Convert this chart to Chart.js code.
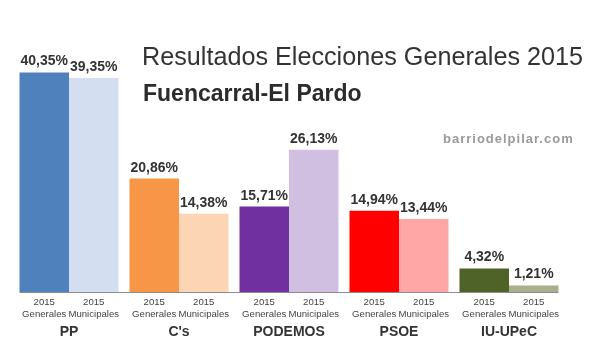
<!DOCTYPE html>
<html>
<head>
<meta charset="utf-8">
<script src="https://cdn.jsdelivr.net/npm/chart.js@4"></script>
<style>
  html, body { margin: 0; padding: 0; background: #fff; }
  #wrap { position: relative; width: 597px; height: 351px; overflow: hidden; }
  canvas { position: absolute; left: 0; top: 0; }
  .t { position: absolute; white-space: nowrap; font-family: "Liberation Sans", Arial, sans-serif; }
  #t1 { left: 142px; top: 44px; font-size: 25.2px; line-height: 25px; color: #333; }
  #t2 { left: 143px; top: 82px; font-size: 23px; line-height: 23px; font-weight: bold; color: #2b2b2b; }
  #t3 { left: 443px; top: 132px; font-size: 13px; line-height: 13px; font-weight: bold; color: #9a9a9a; letter-spacing: 1px; }
</style>
</head>
<body>
<div id="wrap">
  <canvas id="c" width="597" height="351"></canvas>
  <div class="t" id="t1">Resultados Elecciones Generales 2015</div>
  <div class="t" id="t2">Fuencarral-El Pardo</div>
  <div class="t" id="t3">barriodelpilar.com</div>
</div>
<script>
const categories = ["PP", "C's", "PODEMOS", "PSOE", "IU-UPeC"];
const generales = [40.35, 20.86, 15.71, 14.94, 4.32];
const municipales = [39.35, 14.38, 26.13, 13.44, 1.21];
const subLabelGen = ["2015", "Generales"];
const subLabelMun = ["2015", "Municipales"];
const colorsGen = ["#4f81bd", "#f79646", "#7030a0", "#ff0000", "#4f6228"];
const colorsMun = ["#d3dff0", "#fcd5b5", "#d0bfe0", "#ffa6a6", "#a9ae8c"];

const FONT = '"Liberation Sans", Arial, sans-serif';

const fmt = v => v.toFixed(2).replace('.', ',') + '%';

const decor = {
  id: 'decor',
  afterDatasetsDraw(chart) {
    const ctx = chart.ctx;
    const area = chart.chartArea;
    ctx.save();
    const m0 = chart.getDatasetMeta(0), m1 = chart.getDatasetMeta(1);
    const first = m0.data[0], last = m1.data[m1.data.length - 1];
    ctx.strokeStyle = '#8c8c8c';
    ctx.lineWidth = 1;
    ctx.beginPath();
    ctx.moveTo(first.x - first.width / 2, Math.round(area.bottom) + 0.5);
    ctx.lineTo(last.x + last.width / 2, Math.round(area.bottom) + 0.5);
    ctx.stroke();
    [[m0, generales, subLabelGen], [m1, municipales, subLabelMun]].forEach(([meta, vals, sub]) => {
      meta.data.forEach((bar, i) => {
        ctx.fillStyle = '#333';
        ctx.font = 'bold 14px ' + FONT;
        ctx.textAlign = 'center';
        ctx.textBaseline = 'alphabetic';
        ctx.fillText(fmt(vals[i]), bar.x, bar.y - 7);
        ctx.font = '9.6px ' + FONT;
        ctx.fillStyle = '#444';
        ctx.textBaseline = 'middle';
        ctx.fillText(sub[0], bar.x, area.bottom + 10);
        ctx.fillText(sub[1], bar.x, area.bottom + 22);
      });
    });
    ctx.restore();
  }
};

new Chart(document.getElementById('c'), {
  type: 'bar',
  data: {
    labels: categories,
    datasets: [
      { label: 'Generales', data: generales, backgroundColor: colorsGen, borderWidth: 0 },
      { label: 'Municipales', data: municipales, backgroundColor: colorsMun, borderWidth: 0 }
    ]
  },
  options: {
    responsive: false,
    animation: false,
    events: [],
    layout: { padding: { left: 14, right: 33, top: 20, bottom: 0 } },
    categoryPercentage: 0.9,
    barPercentage: 1.0,
    plugins: { legend: { display: false }, tooltip: { enabled: false }, title: { display: false } },
    scales: {
      x: {
        grid: { display: false, drawTicks: false },
        border: { display: false },
        ticks: { color: '#333', font: { family: FONT, size: 14, weight: 'bold' }, padding: 32 },
        afterFit: (scale) => { scale.height = 59; }
      },
      y: { display: false, min: 0, max: 50 }
    }
  },
  plugins: [decor]
});
</script>
</body>
</html>
